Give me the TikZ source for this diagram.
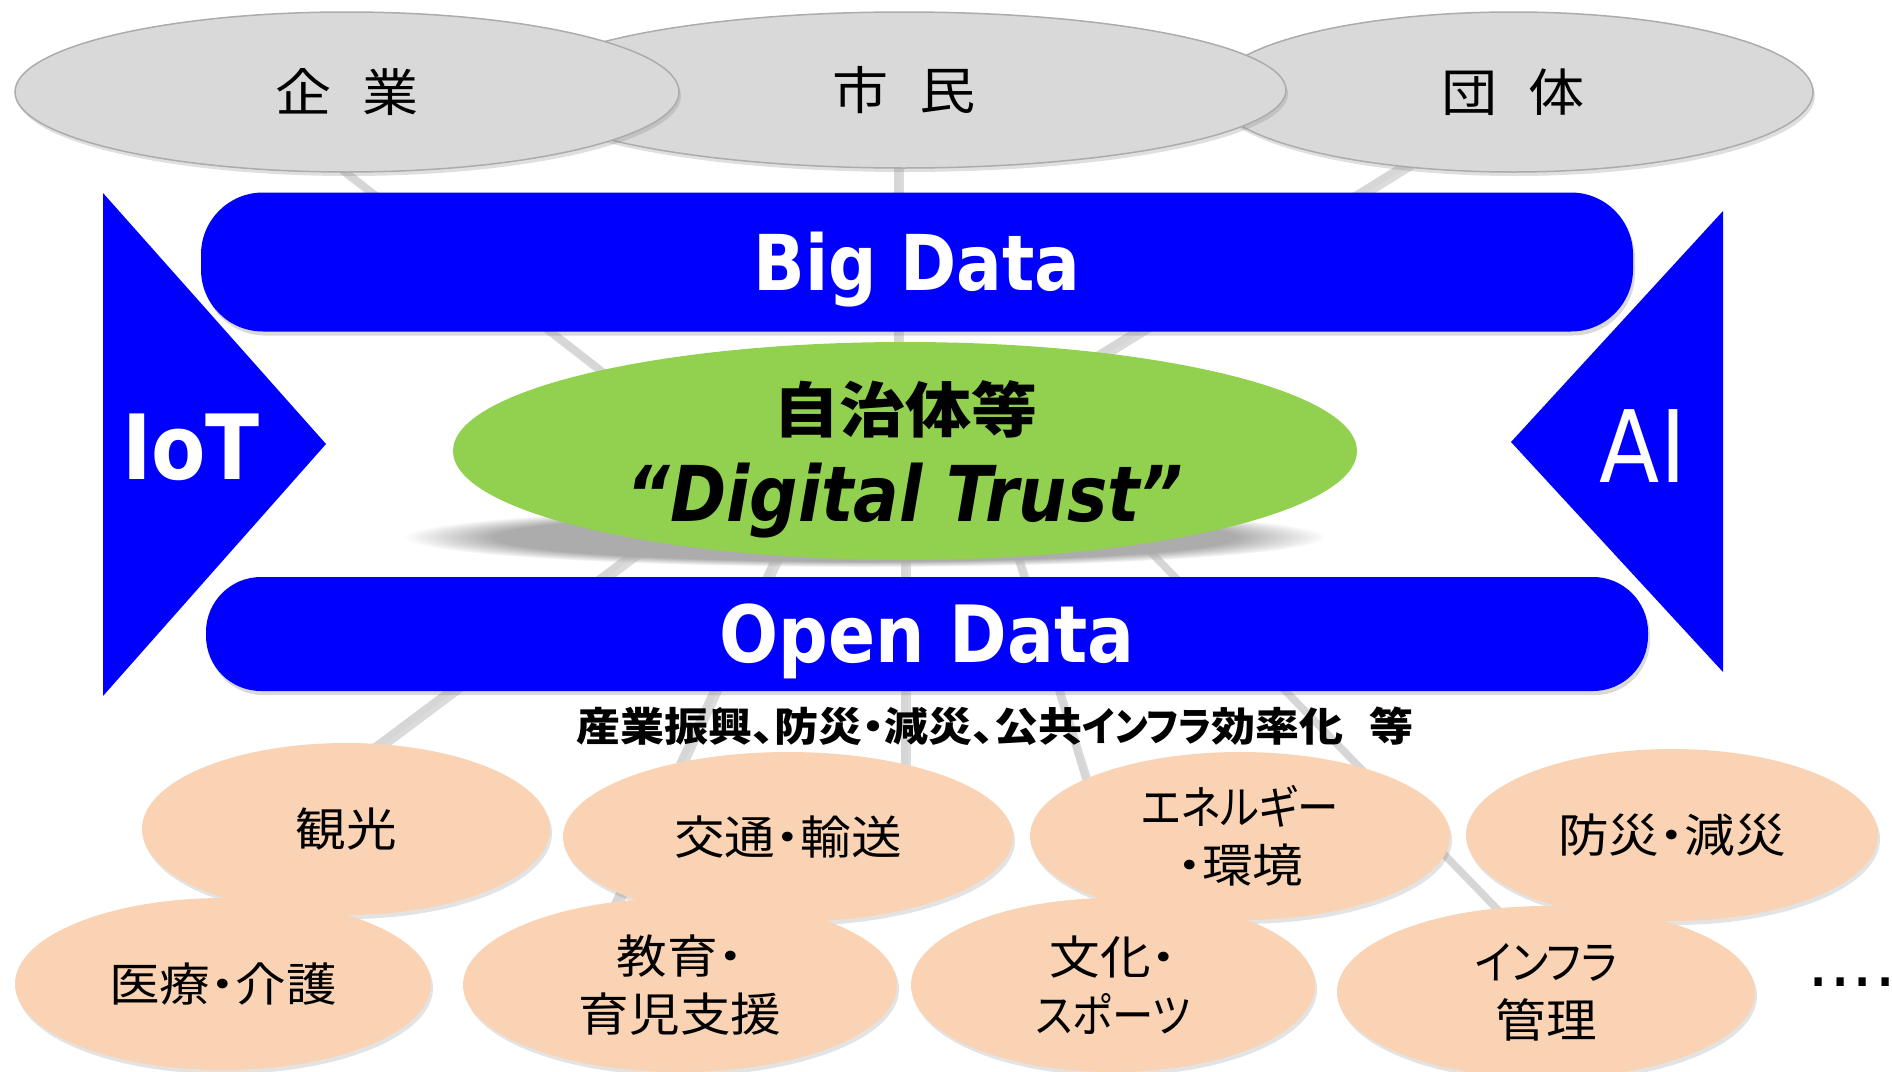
\documentclass[tikz,border=0pt]{standalone}
\usepackage{fontspec}
\usepackage{tikz}
\usetikzlibrary{shapes.geometric, shadows, fadings, positioning}

\setmainfont{DejaVu Sans}
\newfontfamily\latinfont{DejaVu Sans}[FakeStretch=0.88,
  BoldFont={DejaVu Sans Bold}, ItalicFont={DejaVu Sans Oblique},
  BoldItalicFont={DejaVu Sans Bold Oblique}]
\newfontfamily\jpfont{Noto Sans CJK JP}[FakeStretch=1.1, RawFeature=+palt]
\newfontfamily\jpkana{Noto Sans CJK JP}[FakeStretch=0.9, RawFeature=+palt]
\newfontfamily\jpspaced{Noto Sans CJK JP}[FakeStretch=1.1, WordSpace=2.4]
\newfontfamily\jpcaption{Noto Sans CJK JP}[FakeStretch=1.1, RawFeature=+palt, WordSpace=2.6]
\newcommand{\fsize}[2]{\fontsize{#1}{#2}\selectfont}

\definecolor{datablue}{HTML}{0000FF}
\definecolor{trustgreen}{HTML}{92D050}
\definecolor{groupgray}{HTML}{D9D9D9}
\definecolor{fieldpeach}{HTML}{F9D3B3}
\definecolor{linkgray}{HTML}{D6D6D6}

\begin{document}
\begin{tikzpicture}[x=1pt, y=-1pt,
    group/.style={ellipse, draw=gray!65, line width=1.5pt, fill=groupgray, inner sep=0pt,
        drop shadow={shadow xshift=2pt, shadow yshift=-4pt, opacity=.25},
        font=\jpspaced\fsize{51}{60}},
    field/.style={ellipse, fill=fieldpeach, inner sep=0pt, align=center,
        drop shadow={shadow xshift=2pt, shadow yshift=-4pt, opacity=.22},
        font=\jpfont\fsize{46}{58}},
    databar/.style={fill=datablue, text=white, inner sep=0pt, rounded corners=62pt,
        text depth=0pt, drop shadow={shadow xshift=2pt, shadow yshift=-4pt, opacity=.3},
        font=\latinfont\bfseries\fsize{77}{80}},
    link/.style={draw=linkgray, line width=7pt},
    linkshade/.style={draw=gray!70, line width=7pt, opacity=.4,
        transform canvas={shift={(3pt,-4pt)}}},
    ]
\useasboundingbox (0,0) rectangle (1892,1071);

% ends of the grey links
\coordinate (kigyo-a) at (243,92);    \coordinate (kigyo-b) at (705,451);
\coordinate (shimin-a) at (897,95);   \coordinate (shimin-b) at (897,451);
\coordinate (dantai-a) at (1522,92);  \coordinate (dantai-b) at (943,451);
\coordinate (kanko-a) at (770,451);   \coordinate (kanko-b) at (265,829);
\coordinate (kyoiku-a) at (825,451);  \coordinate (kyoiku-b) at (577,985);
\coordinate (kotsu-a) at (904,451);   \coordinate (kotsu-b) at (904,837);
\coordinate (bunka-a) at (985,451);   \coordinate (bunka-b) at (1149,985);
\coordinate (infra-a) at (1053,451);  \coordinate (infra-b) at (1578,992);

\foreach \from/\to in {kigyo-a/kigyo-b, shimin-a/shimin-b, dantai-a/dantai-b,
    kanko-a/kanko-b, kyoiku-a/kyoiku-b, kotsu-a/kotsu-b, bunka-a/bunka-b, infra-a/infra-b}{
  \draw[linkshade] (\from) -- (\to);
  \draw[link] (\from) -- (\to);
}

% stakeholders
\node[group, minimum width=600, minimum height=160] (dantai) at (1513,92) {団 体};
\node[group, minimum width=764, minimum height=156] (shimin) at (904,90) {市 民};
\node[group, minimum width=664, minimum height=160] (kigyo) at (347,92) {企 業};

% IoT / AI wedges
\fill[datablue] (103,193) -- (326,444) -- (103,696) -- cycle;
\fill[datablue] (1723,211) -- (1511,442) -- (1723,672) -- cycle;
\node[font=\latinfont\bfseries\fsize{90}{90}, text=white, inner sep=0pt] (iot) at (191,447) {IoT};
\node[font=\latinfont\fsize{100}{100}, text=white, inner sep=0pt] (ai) at (1643,446) {AI};

\node[databar, minimum width=1432, minimum height=139, text height=56pt] (bigdata) at (917,262) {Big Data};
\node[databar, minimum width=1442, minimum height=114, text height=57pt, rounded corners=55pt,
    font=\latinfont\bfseries\fsize{79}{80}] (opendata) at (927,634) {Open Data};

% trust in the middle
\fill[gray!65, path fading=circle with fuzzy edge 20 percent] (865,537) ellipse [x radius=460pt, y radius=30pt];
\node[ellipse, fill=trustgreen, minimum width=904, minimum height=218, inner sep=0pt,
    align=center, text depth=0pt, font=\jpfont\bfseries\fsize{60}{89}] (trust) at (905,451)
    {自治体等\\{\latinfont\bfseries\itshape\fsize{77}{89}“Digital Trust”}};

\node[font=\jpcaption\bfseries\fsize{40}{42}, inner sep=0pt] (goal) at (995,726)
    {産業振興、防災・減災、公共{\jpkana\bfseries インフラ}効率化 等};

% fields
\node[field, minimum width=408, minimum height=172] (kanko) at (346,829) {観光};
\node[field, minimum width=450, minimum height=170] (kotsu) at (788,837) {交通・輸送};
\node[field, minimum width=420, minimum height=168] (energy) at (1240,836) {{\jpkana エネルギー}\\・環境};
\node[field, minimum width=412, minimum height=172] (bosai) at (1672,835) {防災・減災};
\node[field, minimum width=416, minimum height=172] (iryo) at (223,984) {医療・介護};
\node[field, minimum width=434, minimum height=174] (kyoiku) at (680,985) {教育・\\育児支援};
\node[field, minimum width=404, minimum height=174] (bunka) at (1113,985) {文化・\\{\jpkana スポーツ}};
\node[field, minimum width=418, minimum height=172] (infra) at (1546,992) {{\jpkana インフラ}\\管理};

\node[font=\fsize{70}{70}, anchor=base west, inner sep=0pt] (more) at (1807,986) {....};
\end{tikzpicture}
\end{document}
